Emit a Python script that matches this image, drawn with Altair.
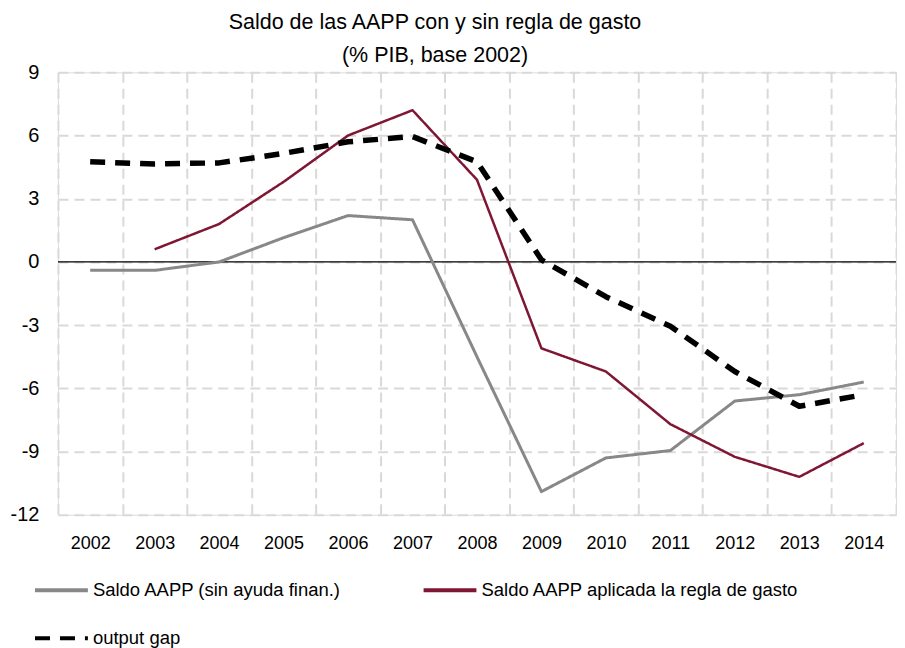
import altair as alt
import pandas as pd

years = ["2002", "2003", "2004", "2005", "2006", "2007", "2008",
         "2009", "2010", "2011", "2012", "2013", "2014"]
saldo = [-0.4, -0.4, 0.0, 1.15, 2.2, 2.0, -4.5, -10.9, -9.3, -8.95, -6.6, -6.3, -5.7]
regla = [None, 0.6, 1.8, 3.8, 6.0, 7.2, 3.9, -4.1, -5.2, -7.7, -9.25, -10.2, -8.6]
gap = [4.75, 4.65, 4.7, 5.15, 5.7, 5.95, 4.75, 0.1, -1.65, -3.05, -5.2, -6.85, -6.3]

series_names = ["Saldo AAPP (sin ayuda finan.)",
                "Saldo AAPP aplicada la regla de gasto",
                "output gap"]
series_colors = ["#888888", "#7f1734", "#000000"]
series_dash = [[1, 0], [1, 0], [15, 10]]
series_width = [3, 2.5, 5.5]
y_ticks = [-12, -9, -6, -3, 0, 3, 6, 9]
zero = [0]

rows = []
for name, vals in zip(series_names, [saldo, regla, gap]):
    for yr, v in zip(years, vals):
        if v is not None:
            rows.append({"year": yr, "value": v, "series": name})
df = pd.DataFrame(rows)

FONT = "Liberation Sans, Arial, sans-serif"
GRID = dict(grid=True, gridColor="#d9d9d9", gridDash=[10, 6], gridWidth=2)
Y_SCALE = alt.Scale(domain=[-12, 9], nice=False, zero=False)

x_enc = alt.X(
    "year:O",
    sort=years,
    bandPosition=0.5,
    scale=alt.Scale(type="band", paddingInner=0, paddingOuter=0),
    axis=alt.Axis(
        title=None, tickBand="extent", domain=False, ticks=False,
        labelAngle=0, labelPadding=20, labelFontSize=18, labelFont=FONT,
        labelColor="#000000", **GRID,
    ),
)
y_enc = alt.Y(
    "value:Q",
    scale=Y_SCALE,
    axis=alt.Axis(
        title=None, values=y_ticks, domain=False, ticks=False,
        labelExpr="'' + datum.value",
        labelPadding=19, labelFontSize=20, labelFont=FONT,
        labelColor="#000000", minExtent=50, **GRID,
    ),
)
color_enc = alt.Color(
    "series:N",
    sort=series_names,
    scale=alt.Scale(domain=series_names, range=series_colors),
    legend=alt.Legend(
        title=None, orient="none", legendX=-25, legendY=490,
        direction="horizontal", columns=2, columnPadding=74,
        rowPadding=10, symbolType="stroke", symbolSize=2800,
        symbolStrokeWidth=4,
        labelFont=FONT, labelFontSize=18.5, labelColor="#000000",
        labelOffset=3, padding=0, labelLimit=500,
    ),
)
dash_enc = alt.StrokeDash(
    "series:N",
    sort=series_names,
    scale=alt.Scale(domain=series_names, range=series_dash),
    legend=None,
)

layers = []
for name, w in zip(series_names, series_width):
    layers.append(
        alt.Chart(df)
        .transform_filter(alt.datum.series == name)
        .mark_line(strokeWidth=w, strokeCap="butt", strokeJoin="round")
        .encode(x=x_enc, y=y_enc, color=color_enc, strokeDash=dash_enc)
    )

zero_df = pd.DataFrame({"v": zero})
zero_rule = alt.Chart(zero_df).mark_rule(color="#000000", strokeWidth=1.2).encode(
    y=alt.Y("v:Q", scale=Y_SCALE)
)

chart = alt.layer(zero_rule, *layers).properties(
    width=839,
    height=443,
    padding={"top": 3, "left": 0, "right": 0, "bottom": 0},
    title=alt.TitleParams(
        text=["Saldo de las AAPP con y sin regla de gasto", "(% PIB, base 2002)"],
        font=FONT, fontSize=21.5, fontWeight="normal", color="#000000",
        lineHeight=33, offset=-4, dx=-42, anchor="middle",
    ),
).configure_view(stroke=None).configure(background="#ffffff")

chart.save("out.html", embed_options={"renderer": "svg", "actions": False})
